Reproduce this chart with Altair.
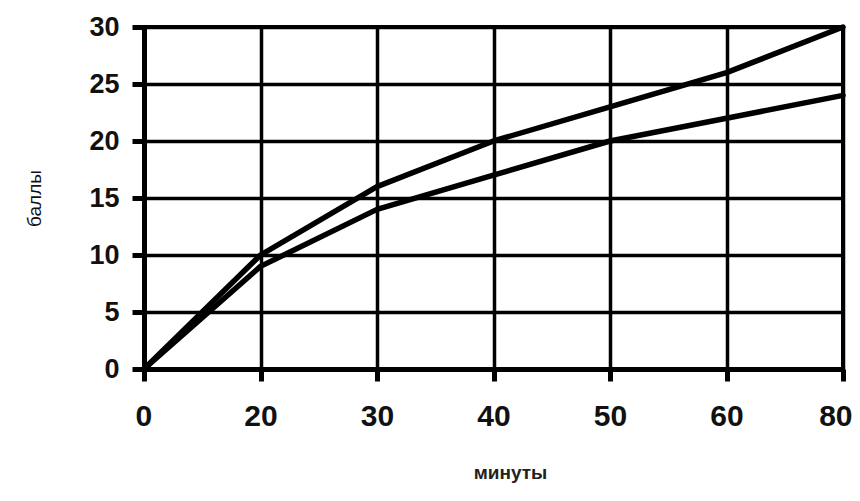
import altair as alt
import pandas as pd

minutes = ["0", "20", "30", "40", "50", "60", "80"]
series_a = [0, 10, 16, 20, 23, 26, 30]
series_b = [0, 9, 14, 17, 20, 22, 24]

rows = []
for m, a in zip(minutes, series_a):
    rows.append({"minutes": m, "score": a, "series": "A"})
for m, b in zip(minutes, series_b):
    rows.append({"minutes": m, "score": b, "series": "B"})
df = pd.DataFrame(rows)

FONT = "Liberation Sans"

chart = alt.Chart(df).mark_line(color="black", strokeWidth=5.5, strokeCap="round", strokeJoin="round").encode(
    x=alt.X("minutes:O", sort=minutes,
            scale=alt.Scale(type="point", padding=0),
            axis=alt.Axis(title="минуты", labelAngle=0, grid=True, gridColor="black", gridWidth=3.5,
                          gridOpacity=1, domain=True, domainColor="black", domainWidth=5,
                          ticks=True, tickColor="black", tickWidth=5, tickSize=12,
                          labelFont=FONT, labelFontSize=30, labelFontWeight="bold", labelColor="#111",
                          labelFlush=True, labelFlushOffset=9,
                          labelPadding=20, titleFont=FONT, titleFontSize=19, titleFontWeight="bold",
                          titleColor="#222", titlePadding=32, titleX=366)),
    y=alt.Y("score:Q", scale=alt.Scale(domain=[0, 30], nice=False),
            axis=alt.Axis(title="баллы", values=[0, 5, 10, 15, 20, 25, 30], grid=True,
                          gridColor="black", gridWidth=3.5, gridOpacity=1,
                          domain=True, domainColor="black", domainWidth=5,
                          ticks=True, tickColor="black", tickWidth=5, tickSize=12,
                          labelFont=FONT, labelFontSize=27, labelFontWeight="bold", labelColor="#111",
                          labelPadding=13, titleFont=FONT, titleFontSize=19, titleFontWeight="normal",
                          titleColor="#111", titlePadding=44)),
    detail="series:N",
).properties(
    width=699, height=342,
    autosize=alt.AutoSizeParams(type="none"),
    padding={"left": 136, "top": 19, "right": 9, "bottom": 126},
    background="white",
).configure_view(stroke="black", strokeWidth=4)

chart.save("out.html", embed_options={"renderer": "svg", "actions": False})
